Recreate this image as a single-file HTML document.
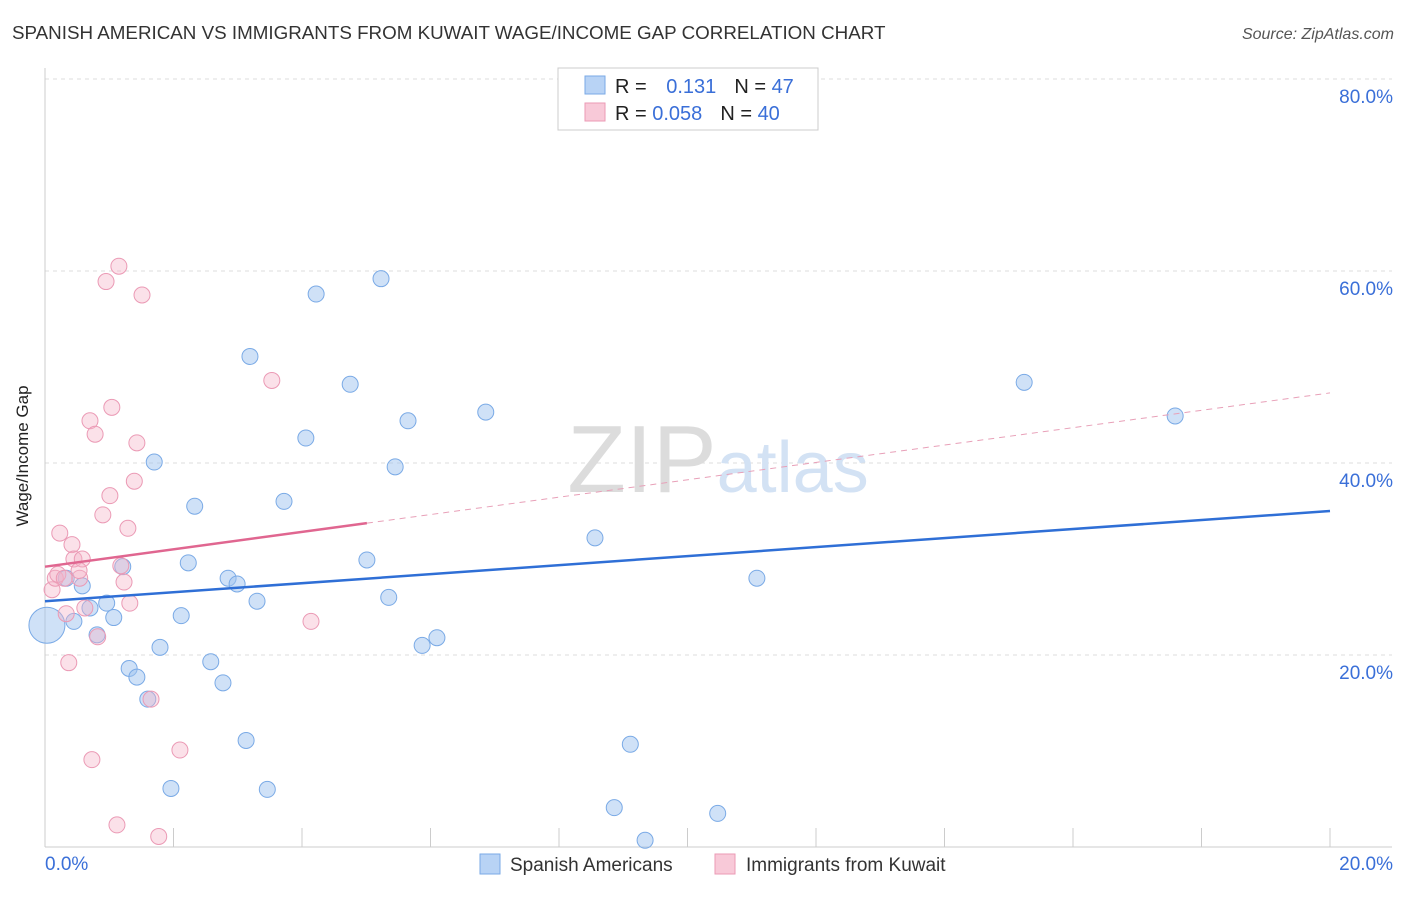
<!DOCTYPE html>
<html><head><meta charset="utf-8"><style>
body{margin:0;background:#fff;font-family:"Liberation Sans",sans-serif;}
svg text{font-family:"Liberation Sans",sans-serif;}
</style></head><body>
<svg id="chart" width="1406" height="892">
<text x="12" y="39" font-size="18.8" fill="#333">SPANISH AMERICAN VS IMMIGRANTS FROM KUWAIT WAGE/INCOME GAP CORRELATION CHART</text>
<text x="1394" y="39" font-size="16" fill="#555" text-anchor="end" font-style="italic">Source: ZipAtlas.com</text>
<text x="28" y="456" font-size="17" fill="#222" text-anchor="middle" transform="rotate(-90 28 456)">Wage/Income Gap</text>
<g id="grid"></g>
<text x="718" y="492" font-size="96" text-anchor="middle" font-family="Liberation Serif"><tspan fill="#dcdcdc">ZIP</tspan><tspan fill="#d3e2f4" font-family="Liberation Sans" font-size="72">atlas</tspan></text>
<g id="marks"></g>
<g>
<rect x="558" y="68" width="260" height="62" fill="#fff" stroke="#ccc"/>
<rect x="585" y="76" width="20" height="18" fill="#b8d3f5" stroke="#7aaae6"/>
<rect x="585" y="103" width="20" height="18" fill="#f8c9d8" stroke="#eb9ab5"/>
<text x="615" y="93" font-size="20" fill="#222">R = <tspan fill="#3a6fd8" dx="14">0.131</tspan><tspan fill="#222" dx="18">N = </tspan><tspan fill="#3a6fd8">47</tspan></text>
<text x="615" y="120" font-size="20" fill="#222">R = <tspan fill="#3a6fd8">0.058</tspan><tspan fill="#222" dx="18">N = </tspan><tspan fill="#3a6fd8">40</tspan></text>
</g>
<g>
<rect x="480" y="854" width="20" height="20" fill="#b8d3f5" stroke="#7aaae6"/>
<text x="510" y="871" font-size="19" fill="#333">Spanish Americans</text>
<rect x="715" y="854" width="20" height="20" fill="#f8c9d8" stroke="#eb9ab5"/>
<text x="746" y="871" font-size="19" fill="#333">Immigrants from Kuwait</text>
</g>
</svg>
<script>
const yTicks=[20,40,60,80];
const yTickLabels=["20.0%","40.0%","60.0%","80.0%"];
const xTickLabels=["0.0%","20.0%"];
const blueX=[0.03,0.33,0.45,0.58,0.70,0.96,1.07,0.81,1.21,1.31,1.43,1.60,1.70,1.79,1.96,2.12,2.23,2.33,2.58,2.77,2.85,2.99,3.13,3.19,3.30,3.46,3.72,4.06,4.22,4.75,5.01,5.23,5.35,5.45,5.65,5.87,6.10,6.86,8.56,8.86,9.11,9.34,10.47,11.08,15.24,17.59];
const blueY=[23.1,28.0,23.5,27.2,24.9,25.4,23.9,22.1,29.2,18.6,17.7,15.4,40.1,20.8,6.1,24.1,29.6,35.5,19.3,17.1,28.0,27.4,11.1,51.1,25.6,6.0,36.0,42.6,57.6,48.2,29.9,59.2,26.0,39.6,44.4,21.0,21.8,45.3,32.2,4.1,10.7,0.7,3.5,28.0,48.4,44.9];
const pinkX=[0.11,0.16,0.20,0.23,0.33,0.37,0.42,0.45,0.54,0.58,0.62,0.73,0.70,0.78,0.82,0.90,0.95,1.01,1.04,1.12,1.15,1.18,1.23,1.29,1.32,1.39,1.43,1.51,1.65,1.77,2.10,3.53,4.14,0.53,0.30];
const pinkY=[26.8,28.0,28.4,32.7,24.3,19.2,31.5,30.0,28.0,30.0,24.9,9.1,44.4,43.0,21.9,34.6,58.9,36.6,45.8,2.3,60.5,29.3,27.6,33.2,25.4,38.1,42.1,57.5,15.4,1.1,10.1,48.6,23.5,28.8,28.0];
const blueTrend=[25.6,35.0];
const pinkTrend=[29.2,47.3];
const pinkSolidEnd=5.01;
const sx=v=>45+v*64.25, sy=v=>847-v*9.6;
const NS="http://www.w3.org/2000/svg";
function mk(t,a,p){const e=document.createElementNS(NS,t);for(const k in a)e.setAttribute(k,a[k]);p.appendChild(e);return e;}
const grid=document.getElementById('grid'), marks=document.getElementById('marks');
yTicks.forEach((t,i)=>{
 const l=mk('line',{x1:45,x2:1392,y1:sy(t),y2:sy(t),stroke:'#ddd','stroke-dasharray':'4,4'},grid);
 
 
 const tx=mk('text',{x:1393,y:sy(t)+24,'font-size':19,fill:'#3a6fd8','text-anchor':'end'},grid);
 tx.textContent=yTickLabels[i];
 
 
});
const ax=mk('line',{x1:45,x2:45,y1:68,y2:847,stroke:'#ccc'},grid);


const bx=mk('line',{x1:45,x2:1392,y1:847,y2:847,stroke:'#ccc'},grid);


for(let i=1;i<=10;i++){
 const tk=mk('line',{x1:sx(i*2),x2:sx(i*2),y1:828,y2:847,stroke:'#ccc'},grid);
 
 
}
[[0,'start',45],[20,'end',1393]].forEach((d,i)=>{
 const tx=mk('text',{x:d[2],y:870,'font-size':19,fill:'#3a6fd8','text-anchor':d[1]},grid);
 tx.textContent=xTickLabels[i];
 
 
});
blueX.forEach((x,i)=>{
 const c=mk('circle',{cx:sx(x),cy:sy(blueY[i]),r:i===0?18:8,fill:'rgba(160,195,240,0.5)',stroke:'#7aaae6','stroke-width':1},marks);
 
 
});
pinkX.forEach((x,i)=>{
 const c=mk('circle',{cx:sx(x),cy:sy(pinkY[i]),r:8,fill:'rgba(245,180,200,0.4)',stroke:'#eb9ab5','stroke-width':1},marks);
 
 
});
const pAt=x=>pinkTrend[0]+(pinkTrend[1]-pinkTrend[0])*x/20;
const pd=mk('line',{x1:sx(pinkSolidEnd),y1:sy(pAt(pinkSolidEnd)),x2:sx(20),y2:sy(pinkTrend[1]),stroke:'#e8a0b8','stroke-dasharray':'6,5','stroke-width':1},marks);


const ps=mk('line',{x1:sx(0),y1:sy(pinkTrend[0]),x2:sx(pinkSolidEnd),y2:sy(pAt(pinkSolidEnd)),stroke:'#e06690','stroke-width':2.5},marks);


const bl=mk('line',{x1:sx(0),y1:sy(blueTrend[0]),x2:sx(20),y2:sy(blueTrend[1]),stroke:'#2f6fd6','stroke-width':2.5},marks);


</script>
</body></html>
